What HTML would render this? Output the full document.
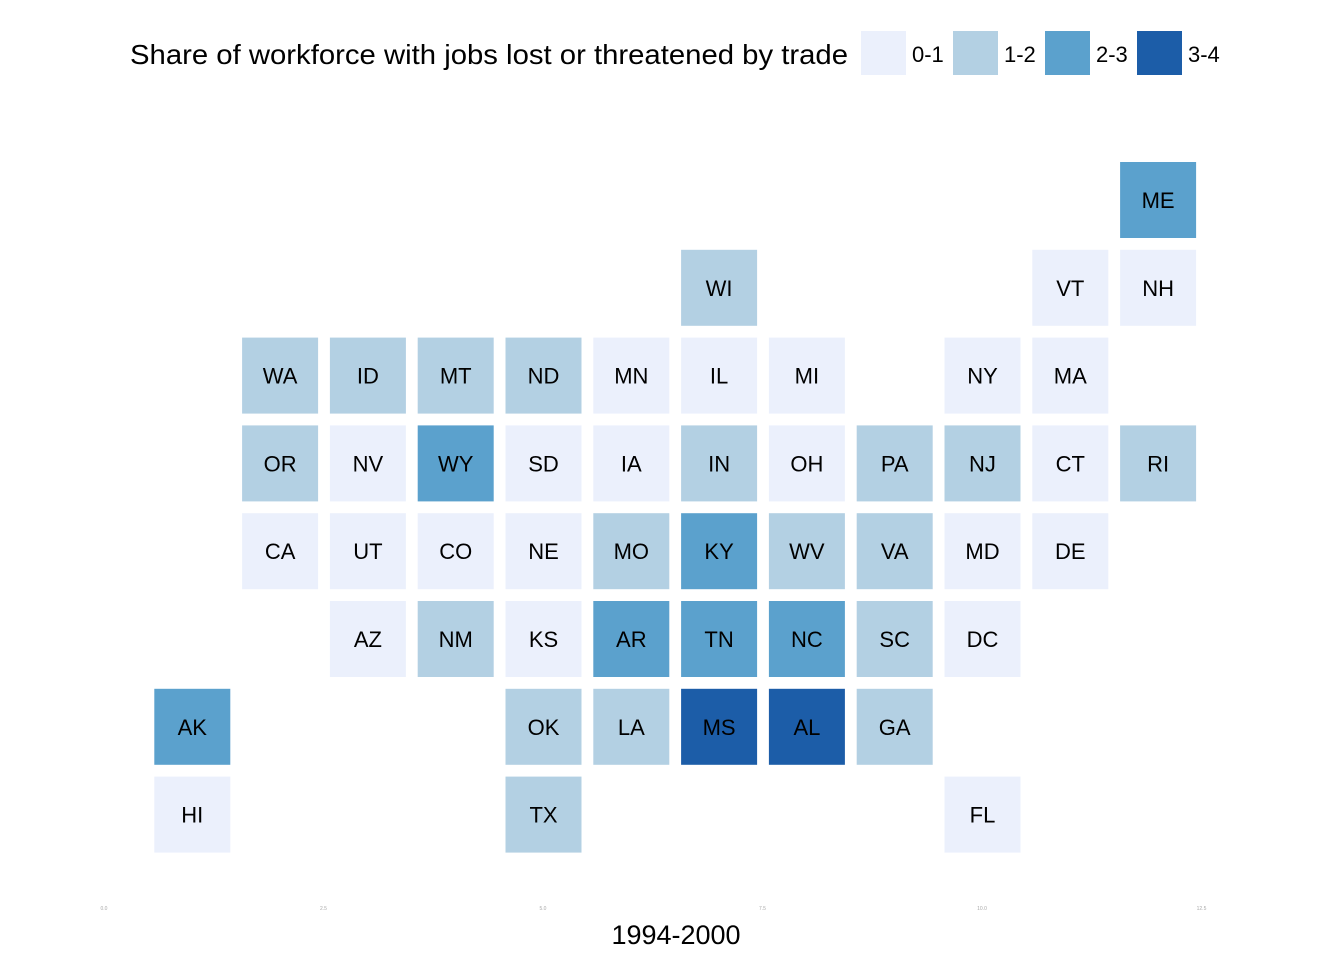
<!DOCTYPE html>
<html><head><meta charset="utf-8"><style>
body{margin:0;background:#fff;font-family:"Liberation Sans",sans-serif}
svg{display:block}
</style></head><body>
<svg id="chart" width="1344" height="960">
<text x="130" y="64" font-size="28" textLength="718" lengthAdjust="spacingAndGlyphs" fill="#000">Share of workforce with jobs lost or threatened by trade</text>
<g id="legend"></g>
<g id="tiles"></g>
<g id="ticks"></g>
<text x="676" y="944" font-size="27" text-anchor="middle" fill="#000">1994-2000</text>
</svg>
<script>
const states=["ME","WI","VT","NH","WA","ID","MT","ND","MN","IL","MI","NY","MA","OR","NV","WY","SD","IA","IN","OH","PA","NJ","CT","RI","CA","UT","CO","NE","MO","KY","WV","VA","MD","DE","AZ","NM","KS","AR","TN","NC","SC","DC","AK","OK","LA","MS","AL","GA","HI","TX","FL"];
const cols=[12,7,11,12,2,3,4,5,6,7,8,10,11,2,3,4,5,6,7,8,9,10,11,12,2,3,4,5,6,7,8,9,10,11,3,4,5,6,7,8,9,10,1,5,6,7,8,9,1,5,10];
const rows=[1,2,2,2,3,3,3,3,3,3,3,3,3,4,4,4,4,4,4,4,4,4,4,4,5,5,5,5,5,5,5,5,5,5,6,6,6,6,6,6,6,6,7,7,7,7,7,7,8,8,8];
const bins=[2,1,0,0,1,1,1,1,0,0,0,0,0,1,0,2,0,0,1,0,1,1,0,1,0,0,0,0,1,2,1,1,0,0,0,1,0,2,2,2,1,0,2,1,1,3,3,1,0,1,0];
const binLabels=["0-1","1-2","2-3","3-4"];
const ticks=["0.0","2.5","5.0","7.5","10.0","12.5"];
const tickVals=[0,2.5,5,7.5,10,12.5];
const colors=["#EBF0FC","#B3D0E3","#5BA1CD","#1C5DA8"];
const NS="http://www.w3.org/2000/svg";
const xs=c=>104.5+87.8*c, ys=r=>112.2+87.8*r, S=76;
function mk(t,a,p){const e=document.createElementNS(NS,t);for(const k in a)e.setAttribute(k,a[k]);p.appendChild(e);return e;}
const tg=document.getElementById('tiles');
states.forEach((s,i)=>{
  const g=mk('g',{},tg);
  
  
  mk('rect',{x:xs(cols[i])-S/2,y:ys(rows[i])-S/2,width:S,height:S,fill:colors[bins[i]]},g);
  const t=mk('text',{x:xs(cols[i]),y:ys(rows[i])+8,'font-size':22,'text-anchor':'middle',fill:'#000'},g);
  t.textContent=s;
});
const lg=document.getElementById('legend');
binLabels.forEach((b,i)=>{
  const g=mk('g',{},lg);
  
  
  const x=861+92*i;
  mk('rect',{x:x,y:31,width:45,height:44,fill:colors[i]},g);
  const t=mk('text',{x:x+51,y:62,'font-size':22,fill:'#000'},g);
  t.textContent=b;
});
const tk=document.getElementById('ticks');
ticks.forEach((l,i)=>{
  const t=mk('text',{x:104+87.8*tickVals[i],y:910,'font-size':5,'text-anchor':'middle',fill:'#aaa'},tk);
  
  
  t.textContent=l;
});
</script>
</body></html>
